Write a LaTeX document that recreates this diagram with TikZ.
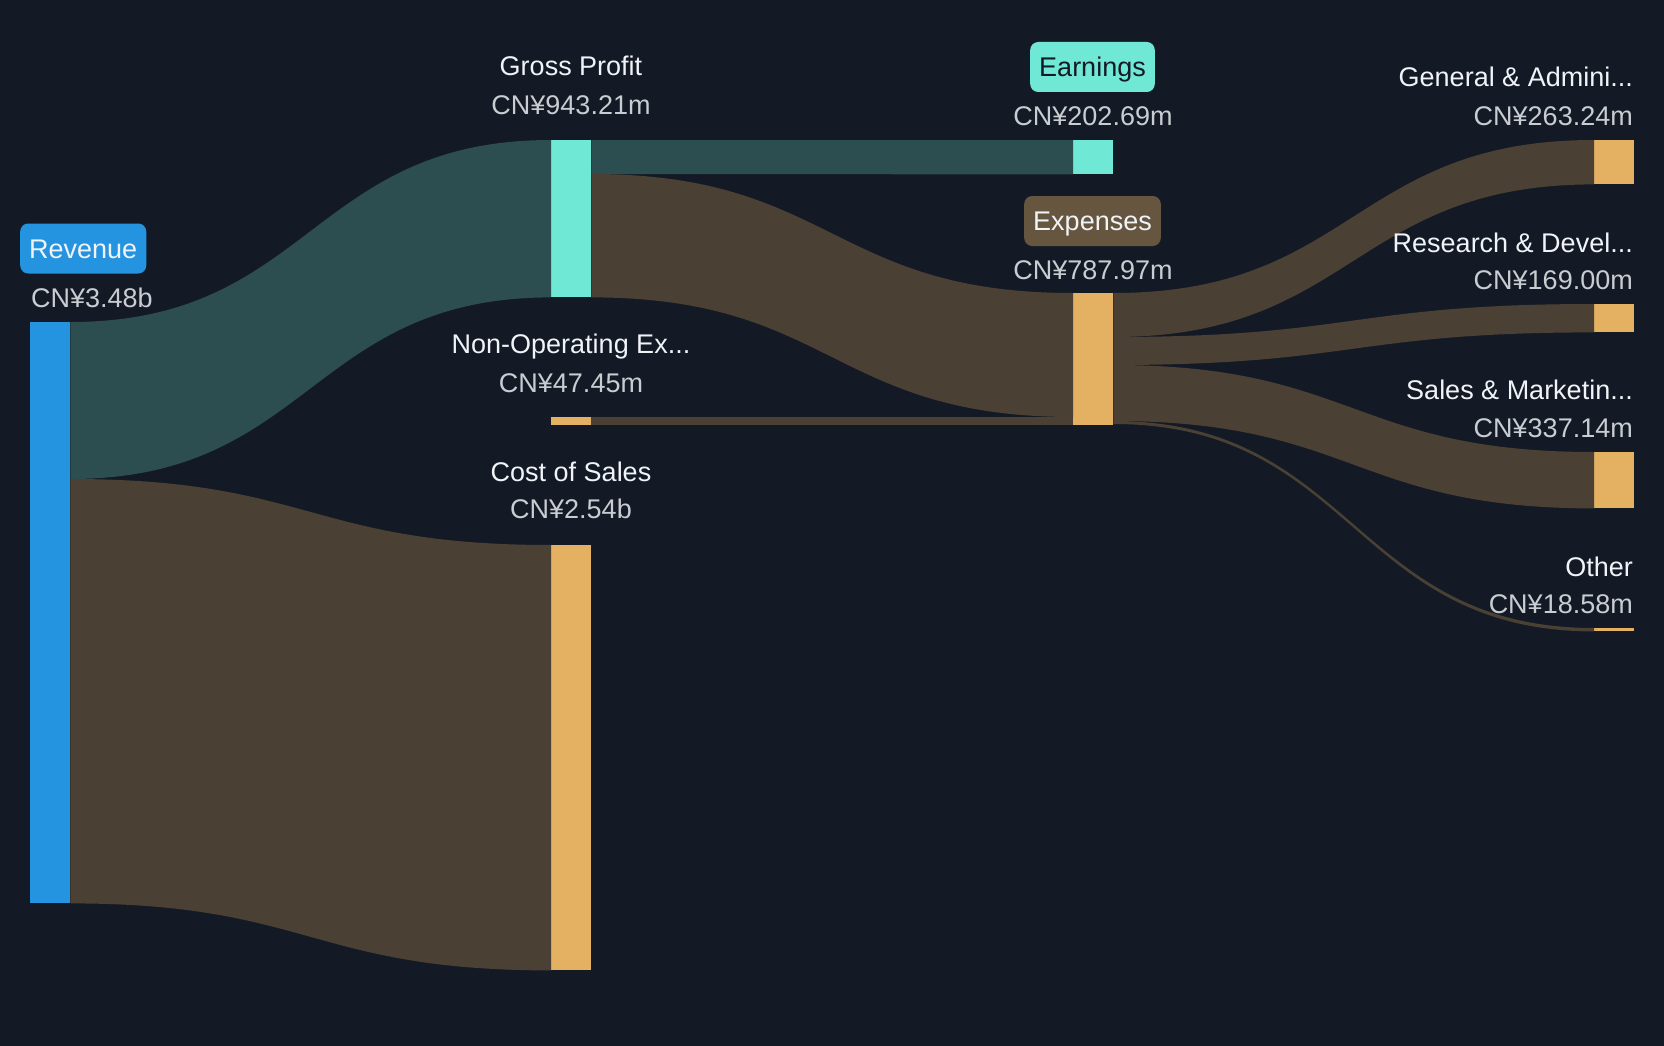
\documentclass[tikz,border=0pt]{standalone}
\usepackage{fontspec}
\setmainfont{Liberation Sans}
\definecolor{bgdark}{HTML}{141A25}
\definecolor{greenflow}{HTML}{2C4E51}
\definecolor{brownflow}{HTML}{4A4034}
\definecolor{revblue}{HTML}{2494E0}
\definecolor{tealbar}{HTML}{6FE8D6}
\definecolor{sandbar}{HTML}{E4B062}
\definecolor{expbox}{HTML}{665640}
\definecolor{titletext}{HTML}{F0F3F7}
\definecolor{valuetext}{HTML}{C9CCD1}

\begin{document}
\begin{tikzpicture}[x=1pt, y=-1pt,
    bar/.style = {rectangle, inner sep=0pt, minimum width=40pt, anchor=north west},
    title/.style = {text=titletext, inner sep=0pt, font=\fontsize{27}{32}\selectfont},
    value/.style = {text=valuetext, inner sep=0pt, font=\fontsize{27}{32}\selectfont},
    tag/.style = {rounded corners=8pt, minimum height=50pt, inner xsep=9pt, inner ysep=0pt,
                  text height=19.5pt, text depth=0pt, font=\fontsize{27}{32}\selectfont}]
      \fill[bgdark] (0,0) rectangle (1664,1046);

      % bars
      \node[bar, fill=revblue, minimum height=581pt] (rev) at (30,322) {};
      \node[bar, fill=tealbar, minimum height=157pt] (gp) at (551,140) {};
      \node[bar, fill=sandbar, minimum height=8pt] (nonop) at (551,417) {};
      \node[bar, fill=sandbar, minimum height=425pt] (cos) at (551,545) {};
      \node[bar, fill=tealbar, minimum height=34pt] (earn) at (1073,140) {};
      \node[bar, fill=sandbar, minimum height=132pt] (exp) at (1073,293) {};
      \node[bar, fill=sandbar, minimum height=44pt] (ga) at (1594,140) {};
      \node[bar, fill=sandbar, minimum height=28pt] (rd) at (1594,304) {};
      \node[bar, fill=sandbar, minimum height=56pt] (sm) at (1594,452) {};
      \node[bar, fill=sandbar, minimum height=3pt] (oth) at (1594,628) {};

      % flows
      \fill[greenflow] (rev.north east) .. controls +(240,0) and +(-240,0) .. (gp.north west)
        -- (gp.south west) .. controls +(-240,0) and +(240,0) .. ([yshift=-157pt]rev.north east) -- cycle;
      \fill[brownflow] ([yshift=-157pt]rev.north east) .. controls +(240,0) and +(-240,0) .. (cos.north west)
        -- (cos.south west) .. controls +(-240,0) and +(240,0) .. (rev.south east) -- cycle;
      \fill[greenflow] (gp.north east) -- (earn.north west) -- (earn.south west)
        -- ([yshift=-34pt]gp.north east) -- cycle;
      \fill[brownflow] ([yshift=-34pt]gp.north east) .. controls +(241,0) and +(-241,0) .. (exp.north west)
        -- ([yshift=-124pt]exp.north west) .. controls +(-241,0) and +(241,0) .. (gp.south east) -- cycle;
      \fill[brownflow] (nonop.north east) -- ([yshift=-124pt]exp.north west) -- (exp.south west)
        -- (nonop.south east) -- cycle;
      \fill[brownflow] (exp.north east) .. controls +(240,0) and +(-240,0) .. (ga.north west)
        -- (ga.south west) .. controls +(-240,0) and +(240,0) .. ([yshift=-44pt]exp.north east) -- cycle;
      \fill[brownflow] ([yshift=-44pt]exp.north east) .. controls +(240,0) and +(-240,0) .. (rd.north west)
        -- (rd.south west) .. controls +(-240,0) and +(240,0) .. ([yshift=-72pt]exp.north east) -- cycle;
      \fill[brownflow] ([yshift=-72pt]exp.north east) .. controls +(240,0) and +(-240,0) .. (sm.north west)
        -- (sm.south west) .. controls +(-240,0) and +(240,0) .. ([yshift=-128pt]exp.north east) -- cycle;
      \fill[brownflow] ([yshift=-128pt]exp.north east) .. controls +(240,0) and +(-240,0) .. (oth.north west)
        -- (oth.south west) .. controls +(-240,0) and +(240,0) .. ([yshift=-131pt]exp.north east) -- cycle;

      % labels
      \node[tag, fill=revblue, text=titletext, anchor=west] (revtag) at (20,248.5) {Revenue};
      \node[value, anchor=base west] (revval) at (31,307) {CN¥3.48b};
      \node[title, anchor=base] (gptitle) at (571,76) {Gross Profit};
      \node[value, anchor=base] (gpval) at (571,114) {CN¥943.21m};
      \node[title, anchor=base] (nonoptitle) at (571,353) {Non-Operating Ex...};
      \node[value, anchor=base] (nonopval) at (571,392) {CN¥47.45m};
      \node[title, anchor=base] (costitle) at (571,481) {Cost of Sales};
      \node[value, anchor=base] (cosval) at (571,518) {CN¥2.54b};
      \node[tag, fill=tealbar, text=bgdark] (earntag) at (1092.5,67) {Earnings};
      \node[value, anchor=base] (earnval) at (1093,126) {CN¥202.69m};
      \node[tag, fill=expbox, text=titletext] (exptag) at (1092.5,221) {Expenses};
      \node[value, anchor=base] (expval) at (1093,279) {CN¥787.97m};
      \node[title, anchor=base east] (gatitle) at (1633,87) {General \& Admini...};
      \node[value, anchor=base east] (gaval) at (1633,126) {CN¥263.24m};
      \node[title, anchor=base east] (rdtitle) at (1633,252) {Research \& Devel...};
      \node[value, anchor=base east] (rdval) at (1633,289) {CN¥169.00m};
      \node[title, anchor=base east] (smtitle) at (1633,399) {Sales \& Marketin...};
      \node[value, anchor=base east] (smval) at (1633,437) {CN¥337.14m};
      \node[title, anchor=base east] (othtitle) at (1633,576) {Other};
      \node[value, anchor=base east] (othval) at (1633,613) {CN¥18.58m};
    \end{tikzpicture}
\end{document}
